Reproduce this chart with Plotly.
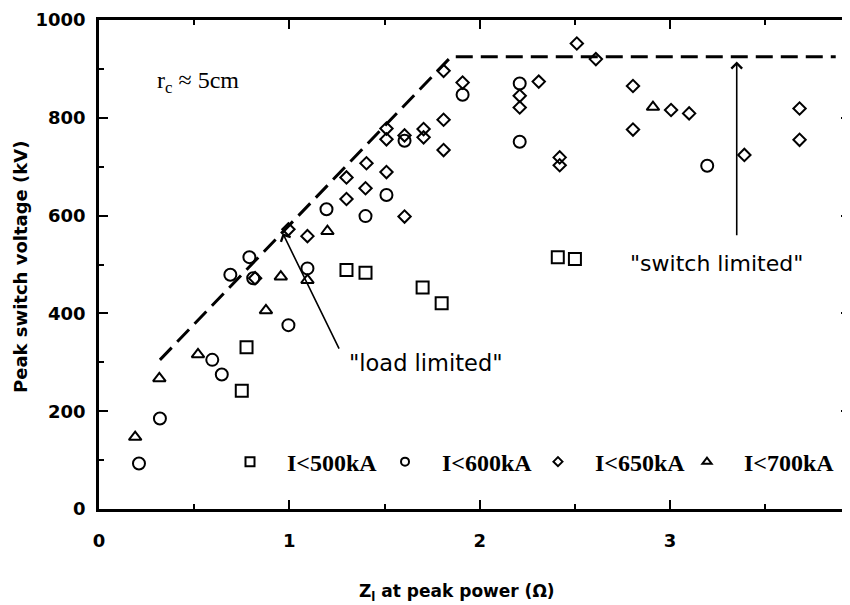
import plotly.graph_objects as go

# ---- data ----
sq_x = [0.75, 0.775, 1.30, 1.40, 1.70, 1.80, 2.41, 2.50]
sq_y = [242, 331, 489, 483, 453, 421, 515, 511]

ci_x = [0.21, 0.32, 0.595, 0.645, 0.69, 0.79, 0.81, 0.995, 1.095, 1.195, 1.40, 1.51, 1.605, 1.91, 2.21, 2.21, 3.195]
ci_y = [93, 185, 305, 275, 479, 515, 472, 376, 492, 613, 599, 642, 753, 847, 870, 751, 702]

di_x = [0.82, 0.995, 1.095, 1.30, 1.30, 1.40, 1.405, 1.51, 1.51, 1.51, 1.605, 1.605, 1.705, 1.705,
        1.81, 1.81, 1.81, 1.91, 2.21, 2.21, 2.31, 2.42, 2.42, 2.51, 2.61, 2.805, 2.805, 3.005, 3.10,
        3.39, 3.68, 3.68]
di_y = [472, 572, 558, 634, 678, 656, 707, 689, 756, 778, 598, 764, 760, 777,
        734, 796, 896, 872, 821, 845, 874, 703, 719, 952, 920, 776, 865, 816, 809,
        724, 755, 819]

tr_x = [0.19, 0.317, 0.52, 0.877, 0.955, 1.095, 1.20, 2.91]
tr_y = [147, 267, 316, 406, 475, 468, 568, 822]

limit_x = [0.32, 1.85, 3.87]
limit_y = [305, 925, 925]

series_names = ["I<500kA", "I<600kA", "I<650kA", "I<700kA"]
legend_x = [0.1518, 0.3582, 0.5619, 0.7603]

x_ticks = [0, 1, 2, 3, 4]
y_ticks = [0, 200, 400, 600, 800, 1000]

fig = go.Figure()

# limit line
fig.add_trace(go.Scatter(x=limit_x, y=limit_y, mode="lines",
                         line=dict(color="black", width=3, dash="17px,8px"),
                         showlegend=False, hoverinfo="skip"))

specs = [
    (sq_x, sq_y, "square-open", 12),
    (ci_x, ci_y, "circle-open", 12),
    (di_x, di_y, "diamond-open", 9.5),
    (tr_x, tr_y, "triangle-up-open", 11),
]
leg_sizes = [9, 8, 7, 8]
leg_ids = ["legend", "legend2", "legend3", "legend4"]
for (xs, ys, sym, sz), name, ls, lid in zip(specs, series_names, leg_sizes, leg_ids):
    fig.add_trace(go.Scatter(x=xs, y=ys, mode="markers", name=name,
                             marker=dict(symbol=sym, size=sz, color="black",
                                         line=dict(width=2, color="black")),
                             showlegend=False))
    # legend entry (smaller symbol as in the reference key)
    fig.add_trace(go.Scatter(x=[None], y=[None], mode="markers", name=name,
                             marker=dict(symbol=sym, size=ls, color="black",
                                         line=dict(width=2, color="black")),
                             showlegend=True, legend=lid))

tick_font = dict(family="DejaVu Sans", size=18, color="black", weight="bold")

fig.update_xaxes(range=[0, 3.945], tickvals=x_ticks, ticktext=[str(v) for v in x_ticks],
                 ticks="inside", ticklen=9, tickwidth=2, tickcolor="black",
                 minor=dict(dtick=0.5, ticks="inside", ticklen=5, tickwidth=1.5, tickcolor="black"),
                 showline=True, linewidth=2.5, linecolor="black", mirror="ticks",
                 showgrid=False, zeroline=False, tickfont=tick_font, ticklabelstandoff=14)
fig.update_yaxes(range=[0, 1000], tickvals=y_ticks, ticktext=[str(v) for v in y_ticks],
                 ticks="inside", ticklen=9, tickwidth=2, tickcolor="black",
                 minor=dict(dtick=100, ticks="inside", ticklen=5, tickwidth=1.5, tickcolor="black"),
                 showline=True, linewidth=2.5, linecolor="black", mirror="ticks",
                 showgrid=False, zeroline=False, tickfont=tick_font, ticklabelstandoff=7)

annos = [
    dict(x=0.519, y=873, xref="x", yref="y", text="r<sub>c</sub> ≈ 5cm", showarrow=False,
         font=dict(family="Liberation Serif", size=24, color="black")),
    dict(x=1.717, y=299, xref="x", yref="y", text='"load limited"', showarrow=False,
         font=dict(family="DejaVu Sans", size=22.5, color="black")),
    dict(x=3.245, y=503, xref="x", yref="y", text='"switch limited"', showarrow=False,
         font=dict(family="DejaVu Sans", size=22, color="black")),
    dict(x=0.965, y=564, ax=1.265, ay=325, xref="x", yref="y", axref="x", ayref="y",
         text="", showarrow=True, arrowhead=4, arrowsize=1.3, arrowwidth=1.6, arrowcolor="black"),
    dict(x=3.35, y=915, ax=3.35, ay=557, xref="x", yref="y", axref="x", ayref="y",
         text="", showarrow=True, arrowhead=4, arrowsize=1.3, arrowwidth=1.6, arrowcolor="black"),
    dict(x=-0.1039, y=0.4949, xref="paper", yref="paper", text="Peak switch voltage (kV)",
         textangle=-90, showarrow=False, xanchor="center", yanchor="middle",
         font=dict(family="DejaVu Sans", size=18, color="black", weight="bold")),
    dict(x=0.4767, y=-0.171, xref="paper", yref="paper", text="Z<sub>l</sub> at peak power (Ω)",
         showarrow=False, xanchor="center", yanchor="middle",
         font=dict(family="DejaVu Sans", size=17, color="black", weight="bold")),
]

leg_font = dict(family="Liberation Serif", size=24, color="black", weight="bold")
legends = {}
for lid, lx in zip(leg_ids, legend_x):
    legends[lid] = dict(orientation="h", x=lx, y=0.096, xanchor="left", yanchor="middle",
                        bgcolor="rgba(0,0,0,0)", itemwidth=64, font=leg_font)

fig.update_layout(
    width=842, height=597,
    margin=dict(l=91, r=0, t=12, b=96, autoexpand=False),
    paper_bgcolor="white", plot_bgcolor="white",
    annotations=annos,
    showlegend=True,
    **legends,
)

fig.write_html("out.html")
